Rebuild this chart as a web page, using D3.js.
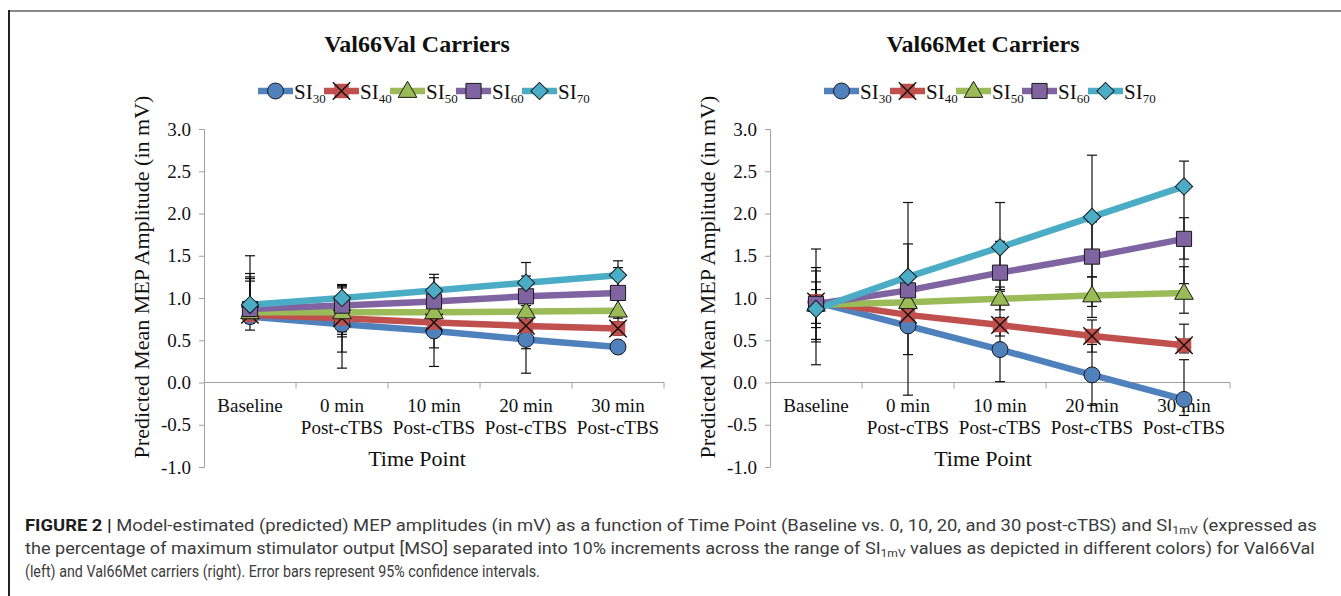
<!DOCTYPE html>
<html>
<head>
<meta charset="utf-8">
<script src="https://cdn.jsdelivr.net/npm/d3@7"></script>
<style>
  body { margin: 0; background: #fff; }
  svg { display: block; }
  .serif { font-family: "Liberation Serif", "Times New Roman", serif; fill: #111; }
</style>
</head>
<body>
<div id="chart"></div>
<script>
// time points and series
const timeLabels = [["Baseline"], ["0 min", "Post-cTBS"], ["10 min", "Post-cTBS"], ["20 min", "Post-cTBS"], ["30 min", "Post-cTBS"]];
const siLevels = ["30", "40", "50", "60", "70"];
const yTicks = [-1.0, -0.5, 0.0, 0.5, 1.0, 1.5, 2.0, 2.5, 3.0];

// Val66Val carriers (rows = SI30..SI70, cols = time points)
const valValMean = [
  [0.78, 0.69, 0.61, 0.51, 0.42],
  [0.80, 0.76, 0.71, 0.67, 0.64],
  [0.83, 0.83, 0.83, 0.84, 0.85],
  [0.87, 0.91, 0.96, 1.02, 1.06],
  [0.92, 1.00, 1.09, 1.18, 1.27]
];
const valValLow = [
  [0.62, 0.17, 0.19, 0.11, 0.35],
  [0.70, 0.36, 0.41, 0.40, 0.56],
  [0.72, 0.54, 0.62, 0.60, 0.60],
  [0.74, 0.57, 0.68, 0.77, 0.76],
  [0.76, 0.60, 0.90, 0.94, 1.10]
];
const valValHigh = [
  [1.29, 1.15, 1.03, 0.91, 0.49],
  [1.23, 1.16, 1.01, 0.94, 0.72],
  [1.20, 1.12, 1.04, 1.08, 1.10],
  [1.25, 1.14, 1.24, 1.26, 1.36],
  [1.50, 1.15, 1.28, 1.42, 1.44]
];

// Val66Met carriers
const valMetMean = [
  [0.95, 0.67, 0.39, 0.09, -0.20],
  [0.96, 0.80, 0.68, 0.55, 0.44],
  [0.92, 0.95, 0.99, 1.03, 1.06],
  [0.93, 1.09, 1.30, 1.49, 1.70],
  [0.87, 1.25, 1.60, 1.96, 2.32]
];
const valMetLow = [
  [0.21, -0.15, 0.01, -0.27, -0.39],
  [0.48, 0.62, 0.55, 0.36, 0.35],
  [0.65, 0.82, 0.86, 0.77, 0.82],
  [0.51, 0.95, 0.93, 0.90, 1.46],
  [0.70, 0.33, 1.08, 1.25, 1.17]
];
const valMetHigh = [
  [1.58, 1.64, 0.77, 0.45, 0.27],
  [1.36, 0.98, 1.10, 0.74, 0.69],
  [1.19, 1.08, 1.13, 1.25, 1.37],
  [1.32, 1.22, 1.67, 1.90, 1.95],
  [1.10, 2.13, 2.13, 2.69, 2.62]
];

const colors = ["#4f81bd", "#c0504d", "#9bbb59", "#8064a2", "#4bacc6"];
const markerTypes = ["circle", "x", "triangle", "square", "diamond"];

const W = 1341, H = 596;
const svg = d3.select("#chart").append("svg").attr("width", W).attr("height", H);

// frame
svg.append("line").attr("x1", 9).attr("x2", W).attr("y1", 11).attr("y2", 11)
  .attr("stroke", "#8a8a8a").attr("stroke-width", 2);
svg.append("line").attr("x1", 9).attr("x2", 9).attr("y1", 10).attr("y2", H)
  .attr("stroke", "#222").attr("stroke-width", 2);

function drawMarker(g, type, color) {
  if (type === "circle") {
    g.append("path").attr("d", d3.symbol(d3.symbolCircle, 200)())
      .attr("fill", color).attr("stroke", "#1a1a1a").attr("stroke-width", 1);
  } else if (type === "square") {
    g.append("path").attr("d", d3.symbol(d3.symbolSquare, 230)())
      .attr("fill", color).attr("stroke", "#1a1a1a").attr("stroke-width", 1);
  } else if (type === "triangle") {
    g.append("path").attr("d", d3.symbol(d3.symbolTriangle, 150)())
      .attr("transform", "translate(0,1)")
      .attr("fill", color).attr("stroke", "#1a1a1a").attr("stroke-width", 1);
  } else if (type === "diamond") {
    g.append("path").attr("d", d3.symbol(d3.symbolSquare, 150)())
      .attr("transform", "rotate(45)")
      .attr("fill", color).attr("stroke", "#1a1a1a").attr("stroke-width", 1);
  } else {
    g.append("path").attr("d", d3.symbol(d3.symbolSquare, 210)()).attr("fill", color);
    g.append("path").attr("d", d3.symbol(d3.symbolX, 200)())
      .attr("fill", "none").attr("stroke", "#111").attr("stroke-width", 1.4);
  }
}

function drawPanel(left, title, means, lows, highs) {
  const g = svg.append("g");
  const width = 460;
  const x = d3.scaleBand().domain(timeLabels.map((d, i) => i)).range([left, left + width]);
  const y = d3.scaleLinear().domain([-1, 3]).range([467, 129]);

  // y axis
  const yAxis = g.append("g").attr("transform", `translate(${left},0)`)
    .call(d3.axisLeft(y).tickValues(yTicks).tickSize(5).tickFormat(d => d.toFixed(1)));
  yAxis.select(".domain").attr("stroke", "#a0a0a0");
  yAxis.selectAll(".tick line").attr("stroke", "#a0a0a0");
  yAxis.selectAll(".tick text").attr("class", "serif").attr("font-size", 19)
    .attr("x", -13).attr("fill", "#111");

  // x axis on zero line
  g.append("line").attr("x1", left).attr("x2", left + width)
    .attr("y1", y(0)).attr("y2", y(0)).attr("stroke", "#a0a0a0");
  g.selectAll(".xtick").data(timeLabels).join("line")
    .attr("x1", (d, i) => x(i) + x.bandwidth()).attr("x2", (d, i) => x(i) + x.bandwidth())
    .attr("y1", y(0)).attr("y2", y(0) + 6).attr("stroke", "#a0a0a0");
  g.selectAll(".xlab").data(timeLabels).join("text")
    .attr("class", "serif").attr("font-size", 19).attr("text-anchor", "middle")
    .each(function(d, i) {
      d3.select(this).selectAll("tspan").data(d).join("tspan")
        .attr("x", x(i) + x.bandwidth() / 2)
        .attr("y", (t, j) => 412 + j * 22)
        .text(t => t);
    });

  // titles
  g.append("text").attr("class", "serif").attr("font-size", 24).attr("font-weight", "bold")
    .attr("text-anchor", "middle").attr("x", left + 213).attr("y", 52).text(title);
  g.append("text").attr("class", "serif").attr("font-size", 22).attr("text-anchor", "middle")
    .attr("x", left + 213).attr("y", 466).text("Time Point");
  g.append("text").attr("class", "serif").attr("font-size", 22).attr("text-anchor", "middle")
    .attr("transform", `translate(${left - 55},277) rotate(-90)`)
    .text("Predicted Mean MEP Amplitude (in mV)");

  // lines
  const line = d3.line().x((d, i) => x(i) + x.bandwidth() / 2).y(d => y(d));
  means.forEach((s, k) => {
    g.append("path").datum(s).attr("d", line).attr("fill", "none")
      .attr("stroke", colors[k]).attr("stroke-width", 6.5);
  });

  // error bars
  means.forEach((s, k) => {
    s.forEach((v, i) => {
      const cx = x(i) + x.bandwidth() / 2;
      const eb = g.append("g").attr("stroke", "#111").attr("stroke-width", 1.2);
      eb.append("line").attr("x1", cx).attr("x2", cx).attr("y1", y(lows[k][i])).attr("y2", y(highs[k][i]));
      eb.append("line").attr("x1", cx - 5).attr("x2", cx + 5).attr("y1", y(lows[k][i])).attr("y2", y(lows[k][i]));
      eb.append("line").attr("x1", cx - 5).attr("x2", cx + 5).attr("y1", y(highs[k][i])).attr("y2", y(highs[k][i]));
    });
  });

  // markers
  means.forEach((s, k) => {
    s.forEach((v, i) => {
      const m = g.append("g").attr("transform", `translate(${x(i) + x.bandwidth() / 2},${y(v)})`);
      drawMarker(m, markerTypes[k], colors[k]);
    });
  });

  // legend
  siLevels.forEach((lvl, k) => {
    const lx = left + 54 + k * 66;
    const lg = g.append("g");
    lg.append("line").attr("x1", lx).attr("x2", lx + 35).attr("y1", 91).attr("y2", 91)
      .attr("stroke", colors[k]).attr("stroke-width", 6.5);
    const m = lg.append("g").attr("transform", `translate(${lx + 17.5},91)`);
    drawMarker(m, markerTypes[k], colors[k]);
    const t = lg.append("text").attr("class", "serif").attr("font-size", 21)
      .attr("x", lx + 36).attr("y", 99);
    t.append("tspan").text("SI");
    t.append("tspan").attr("font-size", 13).attr("dy", 4).text(lvl);
  });
}

drawPanel(204, "Val66Val Carriers", valValMean, valValLow, valValHigh);
drawPanel(770, "Val66Met Carriers", valMetMean, valMetLow, valMetHigh);

// caption (condensed look: natural text squeezed horizontally to the line width)
const captionLines = [
  [["FIGURE 2 | ", "b"], ["Model-estimated (predicted) MEP amplitudes (in mV) as a function of Time Point (Baseline vs. 0, 10, 20, and 30 post-cTBS) and SI", ""], ["1mV", "s"], [" (expressed as", ""]],
  [["the percentage of maximum stimulator output [MSO] separated into 10% increments across the range of SI", ""], ["1mV", "s"], [" values as depicted in different colors) for Val66Val", ""]],
  [["(left) and Val66Met carriers (right). Error bars represent 95% confidence intervals.", ""]]
];
const captionRight = [1318, 1316, 540];
captionLines.forEach((parts, li) => {
  const t = svg.append("text").attr("font-family", "Roboto, 'Liberation Sans', sans-serif")
    .attr("font-size", 16.5).attr("fill", "#3c3c3c").attr("x", 0).attr("y", 0);
  let sub = false;
  parts.forEach(([txt, kind]) => {
    const sp = t.append("tspan").text(txt);
    if (kind === "b") sp.attr("font-weight", "bold").attr("fill", "#1e1e1e");
    if (kind === "s") {
      sp.attr("font-size", 11).attr("dy", 3);
      sub = true;
    } else if (sub) {
      sp.attr("dy", -3);
      sub = false;
    }
  });
  const w = t.node().getBBox().width;
  const sx = (captionRight[li] - 25) / w;
  t.attr("transform", `translate(25,${531 + li * 23}) scale(${sx},1)`);
});
</script>
</body>
</html>
